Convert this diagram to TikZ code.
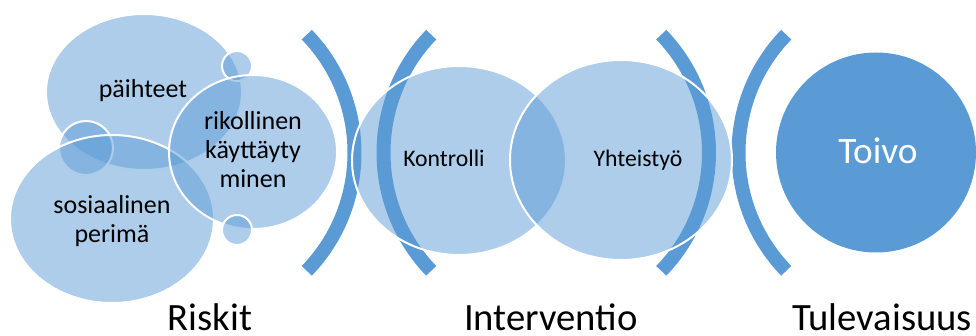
\documentclass[tikz,border=0pt]{standalone}
\usepackage{fontspec}
\setmainfont{Carlito}
\begin{document}
\begin{tikzpicture}[x=0.75pt,y=0.75pt]
  % Define colors
  \definecolor{bubblecolor}{RGB}{91,155,213}
  \definecolor{bracketcolor}{RGB}{91,155,213}
  \tikzset{
    bubble/.style={fill=bubblecolor,fill opacity=0.5,draw=white,draw opacity=1,line width=1.5pt},
    bracket/.style={draw=bracketcolor,line width=10.5pt},
    bubbletext/.style={anchor=base,inner sep=0pt,align=center,font=\fontsize{19.5}{22}\selectfont},
    smalltext/.style={anchor=base,inner sep=0pt,font=\fontsize{17.8}{21}\selectfont},
    steplabel/.style={anchor=base,inner sep=0pt,font=\fontsize{29}{34}\selectfont}
  }
  \useasboundingbox (0,0) rectangle (976,336);

  % Bracket centres
  \coordinate (b1) at (184.5,183.25);
  \coordinate (b2) at (553.5,183.25);
  \coordinate (b3) at (539,183.25);
  \coordinate (b4) at (908.5,183.25);

  % Brackets
  \draw[bracket] ([shift={(-44:170)}]b1) arc[start angle=-44,end angle=44,radius=170];
  \draw[bracket] ([shift={(136:170)}]b2) arc[start angle=136,end angle=224,radius=170];
  \draw[bracket] ([shift={(-44:170)}]b3) arc[start angle=-44,end angle=44,radius=170];
  \draw[bracket] ([shift={(136:170)}]b4) arc[start angle=136,end angle=224,radius=170];

  % Risks (left cluster)
  \path[bubble] (144,244) ellipse[x radius=98,y radius=78];
  \path[bubble] (237,270) circle[radius=15];
  \path[bubble] (86,188) circle[radius=27];
  \path[bubble] (112,117) ellipse[x radius=102,y radius=84];
  \path[bubble] (253,184) ellipse[x radius=84,y radius=77];
  \path[bubble] (237,106) circle[radius=15];

  % Intervention
  \path[bubble] (459,175.5) ellipse[x radius=107,y radius=94.5];
  \path[bubble] (621,176) ellipse[x radius=111,y radius=100];

  % Future
  \fill[bracketcolor] (876,183.5) circle[radius=100];

  % Texts
  \node[bubbletext] (paihteet) at (143,238) {päihteet};
  \node[bubbletext] (rikollinen) at (253,148) {rikollinen\\käyttäyty\\minen};
  \node[bubbletext] (perima) at (112,93) {sosiaalinen\\perimä};
  \node[smalltext] (kontrolli) at (444,169) {Kontrolli};
  \node[smalltext] (yhteistyo) at (638,169) {Yhteistyö};
  \node[anchor=base,inner sep=0pt,text=white,font=\fontsize{28}{34}\selectfont] (toivo) at (878,172) {Toivo};

  % Labels
  \node[steplabel] (riskit) at (210,5) {Riskit};
  \node[steplabel] (interventio) at (551,5) {Interventio};
  \node[steplabel] (tulevaisuus) at (882,5) {Tulevaisuus};
\end{tikzpicture}
\end{document}
